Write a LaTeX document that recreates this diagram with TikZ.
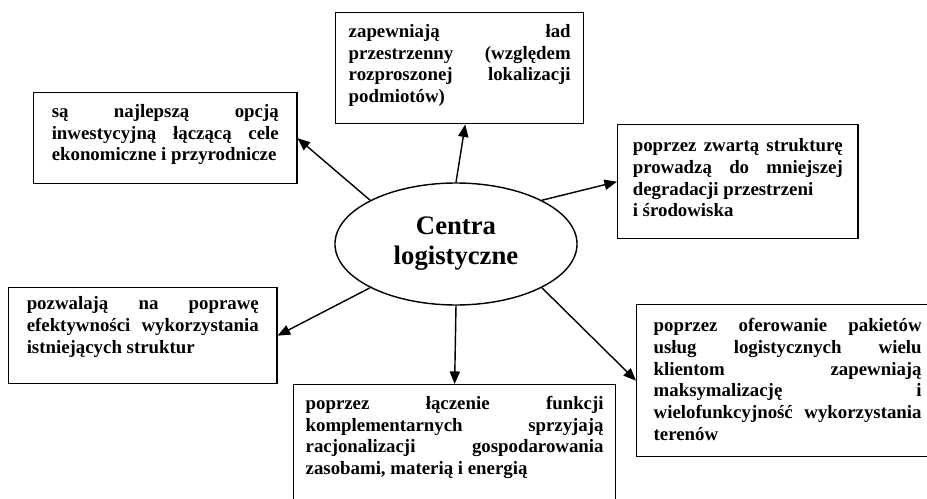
\documentclass[tikz,border=0pt]{standalone}
\usepackage{fontspec}
\setmainfont{Liberation Serif}
\usetikzlibrary{shapes.geometric,arrows.meta}

\begin{document}
\begin{tikzpicture}[x=0.637pt, y=-0.637pt,
    box/.style={draw, line width=0.9pt, anchor=north west, align=justify, inner ysep=0pt,
      font={\fontsize{12pt}{13.8pt}\selectfont\bfseries\tolerance=10000\hyphenpenalty=10000}},
    hub/.style={ellipse, draw, line width=0.9pt, inner sep=0pt, minimum width=154.2pt,
      minimum height=77.7pt, align=center, font={\fontsize{17pt}{19pt}\selectfont\bfseries}},
    link/.style={-{Triangle[length=8pt,width=6.5pt]}, line width=0.9pt}]
  \path[use as bounding box, clip] (0,0) rectangle (927,499);

  \node[hub] (hub) at (456,244) {Centra\\logistyczne};

  \node[box, text width=141.4pt, inner xsep=8.3pt, text height=15.9pt, text depth=54.8pt] (ctop) at (335,12)
    {zapewniają ład\linebreak przestrzenny (względem\linebreak rozproszonej lokalizacji\linebreak podmiotów)};
  \node[box, text width=144.6pt, inner xsep=11.5pt, text height=15.9pt, text depth=42pt] (cleft) at (33,92)
    {są najlepszą opcją\linebreak inwestycyjną łączącą cele\linebreak ekonomiczne i przyrodnicze};
  \node[box, text width=133.8pt, inner xsep=9.6pt, text height=17.2pt, text depth=55.4pt] (cright) at (617,124)
    {poprzez zwartą strukturę\linebreak prowadzą do mniejszej\linebreak degradacji przestrzeni\newline i środowiska};
  \node[box, text width=147.8pt, inner xsep=11.5pt, text height=14pt, text depth=47.1pt] (dleft) at (8,287)
    {pozwalają na poprawę\linebreak efektywności wykorzystania\linebreak istniejących struktur};
  \node[box, text width=189.8pt, inner xsep=7.6pt, text height=15.9pt, text depth=95.6pt] (dmid) at (293,384)
    {poprzez łączenie funkcji\linebreak komplementarnych sprzyjają\linebreak racjonalizacji gospodarowania\linebreak zasobami, materią i energią};
  \node[box, text width=170.7pt, inner xsep=10.8pt, text height=17.2pt, text depth=79.6pt] (dright) at (636,304)
    {poprzez oferowanie pakietów\linebreak usług logistycznych wielu\linebreak klientom zapewniają\linebreak maksymalizację i\linebreak wielofunkcyjność wykorzystania\linebreak terenów};

  % strzalki od centrum
  \draw[link] (hub.north) -- ([xshift=3.5pt]ctop.south);
  \draw[link] (hub.153) -- (cleft.east);
  \draw[link] (hub.27) -- (cright.west);
  \draw[link] (hub.207) -- (dleft.east);
  \draw[link] (hub.south) -- (dmid.north);
  \draw[link] (hub.333) -- (dright.west);
\end{tikzpicture}
\end{document}
